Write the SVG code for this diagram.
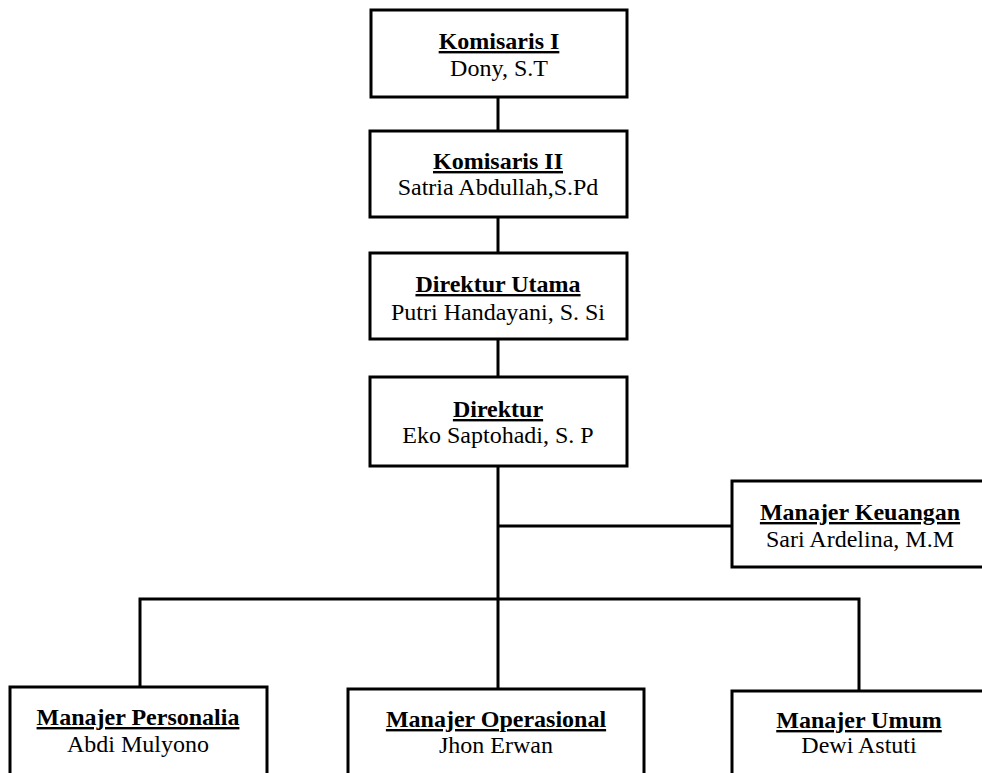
<svg xmlns="http://www.w3.org/2000/svg" width="982" height="773" viewBox="0 0 982 773">
<style>
.box{fill:#fff;stroke:#000;stroke-width:3}
.ln{stroke:#000;stroke-width:3;fill:none}
text{font-family:"Liberation Serif","Times New Roman",serif;font-size:24px;fill:#000;text-anchor:middle}
.t{font-weight:bold;text-decoration:underline}
</style>
<rect width="982" height="773" fill="#fff"/>
<g id="connectors">
<line class="ln" x1="498" y1="97" x2="498" y2="131"/>
<line class="ln" x1="498" y1="217" x2="498" y2="253"/>
<line class="ln" x1="498" y1="339" x2="498" y2="377"/>
<line class="ln" x1="498" y1="466" x2="498" y2="689"/>
<line class="ln" x1="498" y1="526" x2="732" y2="526"/>
<polyline class="ln" points="140,687 140,599 859,599 859,691"/>
</g>
<g id="komisaris1">
<rect class="box" x="371" y="10" width="256" height="87"/>
<text class="t" x="499" y="49">Komisaris I</text>
<text x="499" y="76">Dony, S.T</text>
</g>
<g id="komisaris2">
<rect class="box" x="370" y="131" width="257" height="86"/>
<text class="t" x="498" y="169">Komisaris II</text>
<text x="498" y="195">Satria Abdullah,S.Pd</text>
</g>
<g id="direktur-utama">
<rect class="box" x="370" y="253" width="257" height="86"/>
<text class="t" x="498" y="292">Direktur Utama</text>
<text x="498" y="320">Putri Handayani, S. Si</text>
</g>
<g id="direktur">
<rect class="box" x="370" y="377" width="257" height="89"/>
<text class="t" x="498" y="417">Direktur</text>
<text x="498" y="443">Eko Saptohadi, S. P</text>
</g>
<g id="manajer-keuangan">
<rect class="box" x="732" y="481" width="256" height="86"/>
<text class="t" x="860" y="520">Manajer Keuangan</text>
<text x="860" y="547">Sari Ardelina, M.M</text>
</g>
<g id="manajer-personalia">
<rect class="box" x="10" y="687" width="257" height="95"/>
<text class="t" x="138" y="725">Manajer Personalia</text>
<text x="138" y="752">Abdi Mulyono</text>
</g>
<g id="manajer-operasional">
<rect class="box" x="348" y="689" width="296" height="95"/>
<text class="t" x="496" y="727">Manajer Operasional</text>
<text x="496" y="753">Jhon Erwan</text>
</g>
<g id="manajer-umum">
<rect class="box" x="732" y="691" width="256" height="95"/>
<text class="t" x="859" y="728">Manajer Umum</text>
<text x="859" y="753">Dewi Astuti</text>
</g>
</svg>
